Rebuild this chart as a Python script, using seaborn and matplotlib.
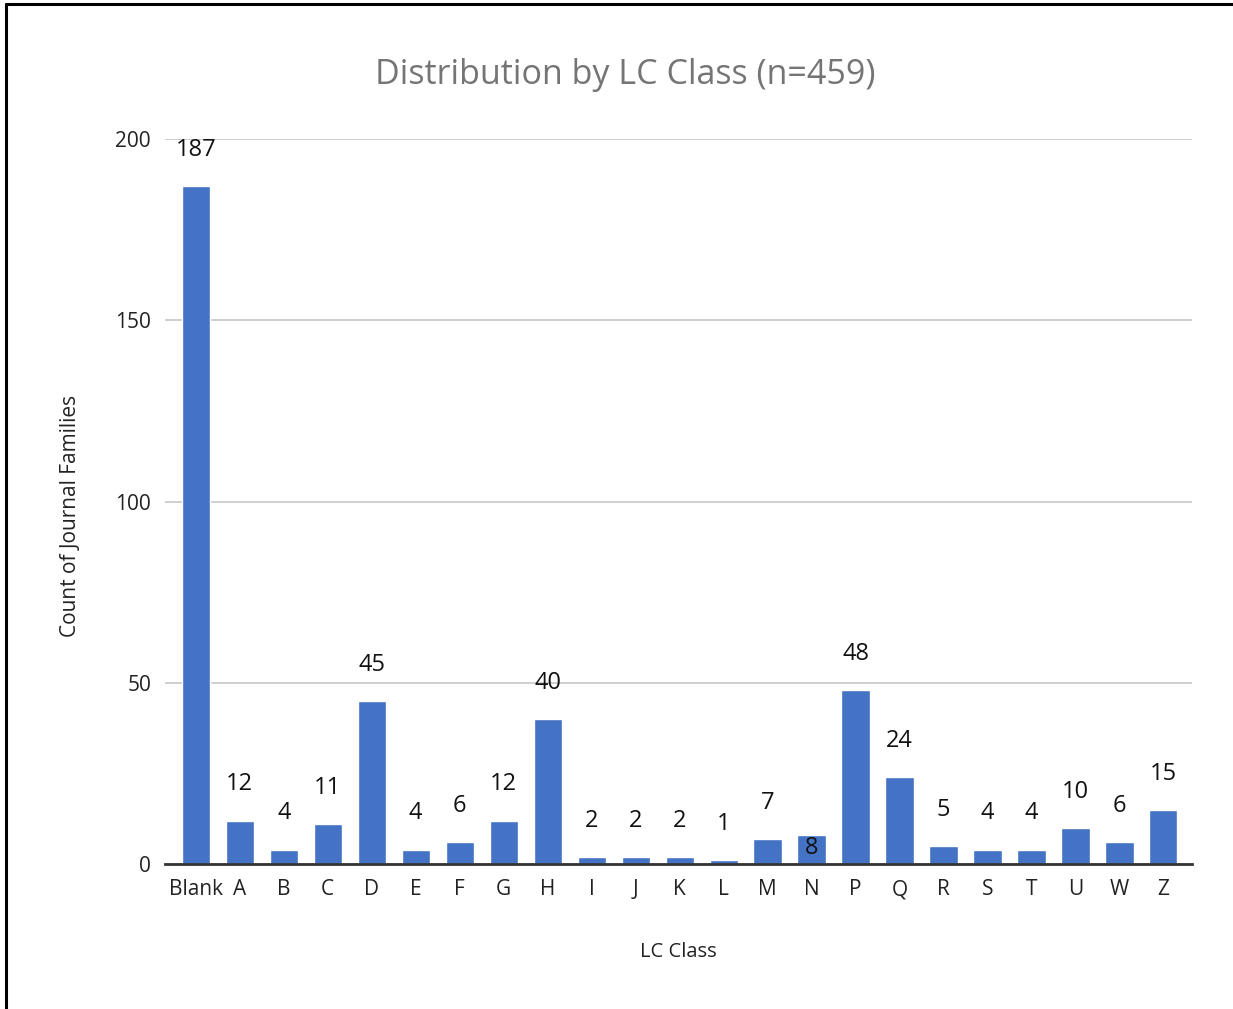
import matplotlib
matplotlib.use("Agg")
import matplotlib.pyplot as plt
from matplotlib.lines import Line2D
import seaborn as sns
import pandas as pd

# LC class counts
classes = ["Blank", "A", "B", "C", "D", "E", "F", "G", "H", "I", "J", "K", "L",
           "M", "N", "P", "Q", "R", "S", "T", "U", "W", "Z"]
counts = [187, 12, 4, 11, 45, 4, 6, 12, 40, 2, 2, 2, 1,
          7, 8, 48, 24, 5, 4, 4, 10, 6, 15]
yticks = [0, 50, 100, 150, 200]

df = pd.DataFrame({"LC Class": classes, "Count": counts})

sns.set_theme(style="white")
plt.rcParams["font.family"] = ["Open Sans", "DejaVu Sans"]

fig = plt.figure(figsize=(12.33, 10.09), dpi=100)
ax = fig.add_axes([165 / 1233, 1 - 864 / 1009, (1192 - 165) / 1233, (864 - 139) / 1009])

sns.barplot(data=df, x="LC Class", y="Count", color="#4472C4", width=0.64,
            saturation=1, ax=ax, zorder=3)

ax.set_ylim(0, 200)
ax.set_xlim(-0.7, 22.65)
ax.set_yticks(yticks)
ax.yaxis.grid(True, color="#cccccc", linewidth=1.3, zorder=0)
for s in ["top", "right", "left"]:
    ax.spines[s].set_visible(False)
ax.spines["bottom"].set_color("#333333")
ax.spines["bottom"].set_linewidth(2)
ax.spines["bottom"].set_zorder(4)
ax.tick_params(axis="both", length=0, labelsize=15, colors="#222222", pad=10)
ax.tick_params(axis="x", pad=11)

# value labels
for i, v in enumerate(counts):
    if classes[i] == "N":
        ax.annotate(str(v), (i, v), xytext=(0, -9), textcoords="offset points",
                    ha="center", va="center", fontsize=17, color="#111111", zorder=5)
    else:
        ax.annotate(str(v), (i, v), xytext=(0, 26), textcoords="offset points",
                    ha="center", va="center", fontsize=17, color="#111111", zorder=5)

ax.set_xlabel("LC Class", fontsize=14.5, color="#222222", labelpad=30)
ax.set_ylabel("Count of Journal Families", fontsize=15, color="#222222")
ax.yaxis.set_label_coords(-0.082, 0.48)

fig.text(625 / 1233, 1 - 75 / 1009, "Distribution by LC Class (n=459)",
         ha="center", va="center", fontsize=24.5, color="#757575")

# outer frame lines (top and left)
fig.add_artist(Line2D([5.5 / 1233, 1], [1 - 4 / 1009, 1 - 4 / 1009],
                      transform=fig.transFigure, color="black", linewidth=2.2))
fig.add_artist(Line2D([5.5 / 1233, 5.5 / 1233], [0, 1 - 4 / 1009],
                      transform=fig.transFigure, color="black", linewidth=2.2))

fig.savefig("out.png", dpi=100, facecolor="white")
